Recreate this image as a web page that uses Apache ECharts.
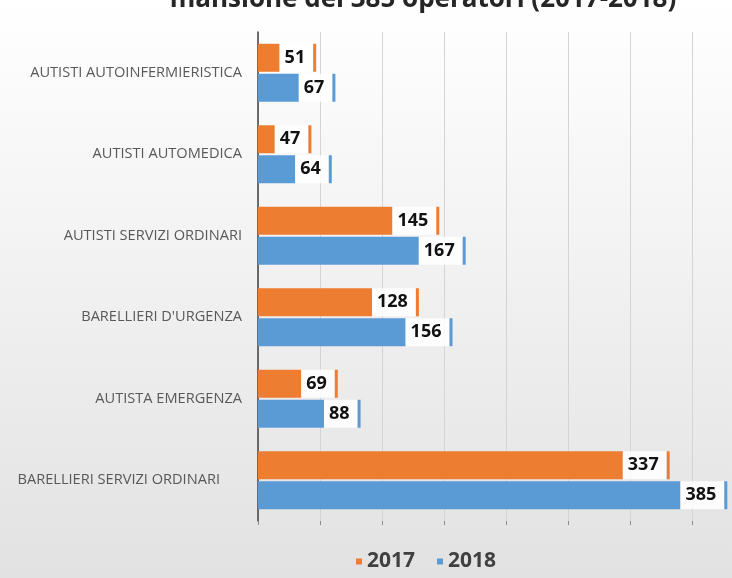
<!DOCTYPE html>
<html>
<head>
<meta charset="utf-8">
<script src="https://cdn.jsdelivr.net/npm/echarts@6/dist/echarts.min.js"></script>
<style>html,body{margin:0;padding:0;}#c{width:732px;height:578px;}</style>
</head>
<body>
<div id="c"></div>
<script>
const titleText = "mansione dei 385 operatori (2017-2018)";
const categories = [
  "AUTISTI AUTOINFERMIERISTICA",
  "AUTISTI AUTOMEDICA",
  "AUTISTI SERVIZI ORDINARI",
  "BARELLIERI D'URGENZA",
  "AUTISTA EMERGENZA",
  "BARELLIERI SERVIZI ORDINARI"
];
const seriesNames = ["2017", "2018"];
const values2017 = [51, 47, 145, 128, 69, 337];
const values2018 = [67, 64, 167, 156, 88, 385];
const colors = ["#ED7D31", "#5B9BD5"];

const chart = echarts.init(document.getElementById('c'), null, {renderer: 'canvas'});

function makeSeries(name, data, color) {
  return {
    name: name,
    type: 'bar',
    xAxisIndex: 0,
    data: data,
    barWidth: 28,
    barGap: '7%',
    itemStyle: {color: color},
    label: {
      show: true,
      position: 'right',
      distance: 0,
      formatter: p => '{v|' + p.value + '}{m|}',
      rich: {
        v: {fontFamily: 'Open Sans', fontSize: 18, fontWeight: 'bold', color: '#111',
            backgroundColor: 'rgba(255,255,255,0.85)', height: 28, lineHeight: 28, padding: [0, 8, 0, 5]},
        m: {backgroundColor: color, width: 3, height: 28}
      }
    }
  };
}

chart.setOption({
  backgroundColor: {
    type: 'linear', x: 0, y: 0, x2: 0, y2: 1,
    colorStops: [{offset: 0, color: '#ffffff'}, {offset: 1, color: '#e2e2e2'}]
  },
  animation: false,
  title: {
    text: titleText,
    left: 418, textAlign: 'center',
    top: -18,
    textStyle: {fontFamily: 'Open Sans', fontSize: 26, fontWeight: 'bold', color: '#262626'}
  },
  legend: {
    data: seriesNames,
    top: 546,
    left: 351,
    icon: 'rect',
    itemWidth: 6,
    itemHeight: 6,
    itemGap: 22,
    textStyle: {fontFamily: 'Open Sans', fontSize: 21, fontWeight: 'bold', color: '#404040'}
  },
  grid: {left: 258, width: 496, top: 32, bottom: 57, containLabel: false, outerBoundsMode: 'none'},
  xAxis: [
    {type: 'value', min: 33, max: 446.3, show: false, splitLine: {show: false}},
    {type: 'value', min: 0, max: 8, interval: 1, position: 'bottom',
     axisLine: {show: false},
     axisTick: {show: true, length: 4, lineStyle: {color: '#8c8c8c'}},
     axisLabel: {show: false},
     splitLine: {show: true, lineStyle: {color: '#d4d4d4', width: 1}}}
  ],
  yAxis: {
    type: 'category',
    data: categories,
    inverse: true,
    axisLine: {show: true, lineStyle: {color: '#404040', width: 1.5}},
    axisTick: {show: false},
    axisLabel: {
      margin: 16,
      fontFamily: 'Open Sans',
      fontSize: 14.6,
      color: '#595959',
      formatter: (v, i) => i === 5 ? '{s|' + v + '}' : v,
      rich: {s: {fontFamily: 'Open Sans', fontSize: 14.6, color: '#595959', padding: [0, 22, 0, 0]}}
    }
  },
  series: [
    makeSeries(seriesNames[0], values2017, colors[0]),
    makeSeries(seriesNames[1], values2018, colors[1])
  ]
});
</script>
</body>
</html>
